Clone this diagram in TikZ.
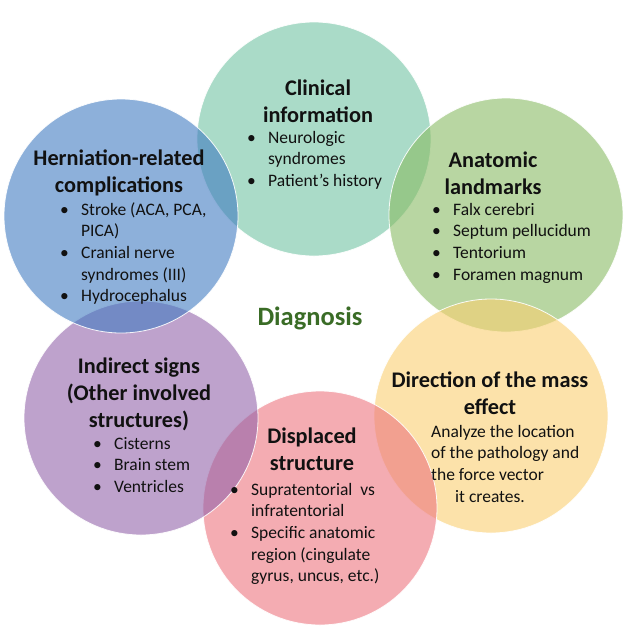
\documentclass[tikz,border=0pt]{standalone}
\usepackage{fontspec}
\setmainfont{Carlito}
\definecolor{cTeal}{RGB}{113,195,163}
\definecolor{cBlue}{RGB}{65,123,193}
\definecolor{cGreen}{RGB}{137,187,100}
\definecolor{cPurple}{RGB}{147,100,170}
\definecolor{cYellow}{RGB}{250,207,113}
\definecolor{cPink}{RGB}{237,117,127}
\definecolor{cDiag}{RGB}{58,108,38}
\definecolor{cText}{RGB}{17,17,17}
\tikzset{
  bubble/.style={circle, draw=white, line width=0.8pt, fill=#1, fill opacity=0.6, draw opacity=0.9, minimum size=234pt, inner sep=0pt},
  heading/.style={anchor=base, inner sep=0pt, text=cText, font=\fontsize{22.3}{27}\selectfont\bfseries},
  body/.style={anchor=base west, inner sep=0pt, text=cText, font=\fontsize{17.5}{21.7}\selectfont}
}
\newcommand{\bl}{\makebox[22pt][l]{\hspace{1pt}\textbullet}}
\begin{document}
\begin{tikzpicture}[x=1pt,y=-1pt]
\useasboundingbox (0,0) rectangle (641,625);
% circles
\node[bubble=cTeal] (clin) at (314,139) {};
\node[bubble=cGreen] (anat) at (506,215) {};
\node[bubble=cYellow] (dir) at (491,416) {};
\node[bubble=cPink] (disp) at (320,508) {};
\node[bubble=cPurple] (ind) at (141,418) {};
\node[bubble=cBlue] (hern) at (121,216) {};
% center
\node[anchor=base, inner sep=0pt, text=cDiag, font=\fontsize{26.5}{30}\selectfont\bfseries] (diag) at (310,325) {Diagnosis};
% Clinical information
\node[heading] (clinH) at (318,95) {\begin{tabular}[t]{@{}c@{}}Clinical\\information\end{tabular}};
\node[body] (clinB) at (246,143) {\begin{tabular}[t]{@{}l@{}l@{}}\bl&Neurologic\\&syndromes\\\bl&Patient’s history\end{tabular}};
% Herniation
\node[heading] (hernH) at (119,165) {\begin{tabular}[t]{@{}c@{}}Herniation-related\\complications\end{tabular}};
\node[body] (hernB) at (59,215) {\begin{tabular}[t]{@{}l@{}l@{}}\bl&Stroke (ACA, PCA,\\&PICA)\\\bl&Cranial nerve\\&syndromes (III)\\\bl&Hydrocephalus\end{tabular}};
% Anatomic
\node[heading] (anatH) at (493,167) {\begin{tabular}[t]{@{}c@{}}Anatomic\\landmarks\end{tabular}};
\node[body] (anatB) at (431,215) {\begin{tabular}[t]{@{}l@{}l@{}}\bl&Falx cerebri\\\bl&Septum pellucidum\\\bl&Tentorium\\\bl&Foramen magnum\end{tabular}};
% Indirect
\node[heading] (indH) at (139,373) {\begin{tabular}[t]{@{}c@{}}Indirect signs\\(Other involved\\structures)\end{tabular}};
\node[body] (indB) at (92,449) {\begin{tabular}[t]{@{}l@{}l@{}}\bl&Cisterns\\\bl&Brain stem\\\bl&Ventricles\end{tabular}};
% Direction
\node[heading] (dirH) at (490,387) {\begin{tabular}[t]{@{}c@{}}Direction of the mass\\effect\end{tabular}};
\node[body] (dirB) at (431,437) {\begin{tabular}[t]{@{}l@{}}Analyze the location\\of the pathology and\\the force vector\\\hspace*{24pt}it creates.\end{tabular}};
% Displaced
\node[heading] (dispH) at (312,443) {\begin{tabular}[t]{@{}c@{}}Displaced\\structure\end{tabular}};
\node[body] (dispB) at (229,495) {\begin{tabular}[t]{@{}l@{}l@{}}\bl&Supratentorial\ \ vs\\&infratentorial\\\bl&Specific anatomic\\&region (cingulate\\&gyrus, uncus, etc.)\end{tabular}};
\end{tikzpicture}
\end{document}
